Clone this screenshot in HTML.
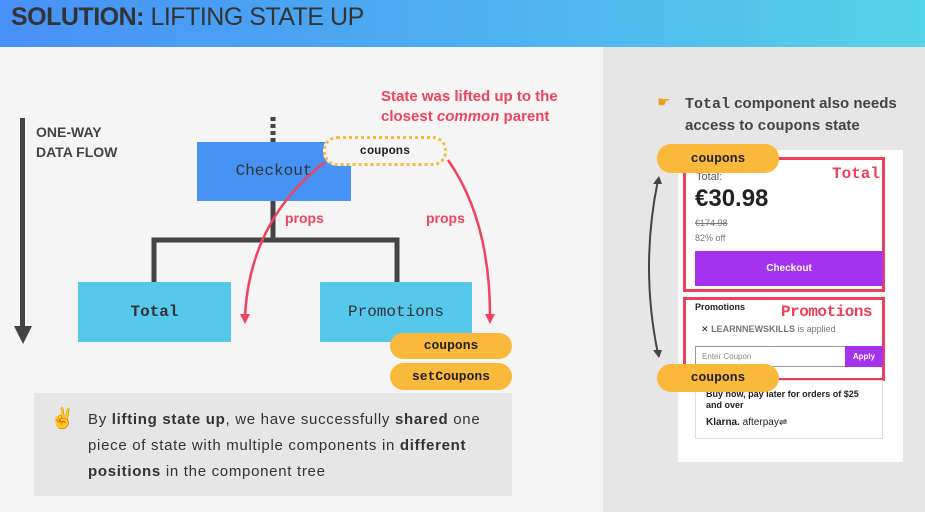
<!DOCTYPE html>
<html><head><meta charset="utf-8"><style>
body{margin:0;width:925px;height:512px;overflow:hidden;font-family:"Liberation Sans",sans-serif;background:#f5f5f5;position:relative}
.a{position:absolute}
.mono{font-family:"Liberation Mono","DejaVu Sans Mono",monospace}
.pill{position:absolute;background:#fbb93c;border-radius:14px;font-family:"Liberation Mono",monospace;font-weight:bold;font-size:13px;color:#222;text-align:center}
</style></head><body>
<div class="a" style="left:0;top:0;width:925px;height:47px;background:linear-gradient(90deg,#4790f6,#4fb5f0 60%,#56d3e6)"></div>
<div class="a" style="left:11px;top:3px;font-size:25px;color:#333;letter-spacing:-0.5px"><b>SOLUTION:</b> LIFTING STATE UP</div>
<div class="a" style="left:603px;top:47px;width:322px;height:465px;background:#e6e6e6"></div>

<div class="a" style="left:20px;top:118px;width:5px;height:210px;background:#444"></div>
<svg class="a" style="left:0;top:0" width="925" height="512">
<polygon points="14,326 32,326 23,344" fill="#444"/>
<line x1="273" y1="117" x2="273" y2="142" stroke="#444" stroke-width="5" stroke-dasharray="4,3"/>
<path d="M273 201V240M154 282V240H397V282" fill="none" stroke="#444" stroke-width="5"/>
</svg>
<div class="a" style="left:36px;top:122px;font-size:14px;font-weight:bold;color:#444;line-height:20px">ONE-WAY<br>DATA FLOW</div>
<div class="a" style="left:381px;top:87px;font-size:15px;font-weight:bold;color:#f0435f;line-height:20px">State was lifted up to the<br>closest <i>common</i> parent</div>
<div class="a mono" style="left:197px;top:142px;width:154px;height:59px;background:#4692f5;color:#333;font-size:16px;line-height:59px;text-align:center">Checkout</div>
<div class="a mono" style="left:78px;top:282px;width:153px;height:60px;background:#55c8ec;color:#333;font-size:16px;font-weight:bold;line-height:60px;text-align:center">Total</div>
<div class="a mono" style="left:320px;top:282px;width:152px;height:60px;background:#55c8ec;color:#333;font-size:16px;line-height:60px;text-align:center">Promotions</div>
<div class="a mono" style="left:323px;top:136px;width:118px;height:24px;border:3px dotted #fbb93c;border-radius:14px;background:#f5f5f5;font-size:12px;font-weight:bold;color:#222;line-height:24px;text-align:center">coupons</div>
<svg class="a" style="left:0;top:0" width="925" height="512">
<path d="M325 162 Q250 220 245 316" fill="none" stroke="#f0435f" stroke-width="2.5"/>
<polygon points="240,314 250,314 245,324" fill="#f0435f"/>
<path d="M448 160 Q490 220 490 316" fill="none" stroke="#f0435f" stroke-width="2.5"/>
<polygon points="485,314 495,314 490,324" fill="#f0435f"/>
</svg>
<div class="a" style="left:285px;top:210px;font-size:14px;font-weight:bold;color:#f0435f">props</div>
<div class="a" style="left:426px;top:210px;font-size:14px;font-weight:bold;color:#f0435f">props</div>
<div class="pill" style="left:390px;top:333px;width:122px;height:26px;line-height:26px">coupons</div>
<div class="pill" style="left:390px;top:363px;width:122px;height:27px;line-height:27px">setCoupons</div>

<div class="a" style="left:34px;top:393px;width:478px;height:103px;background:#e6e6e6"></div>
<div class="a" style="left:50px;top:406px;font-size:20px">✌</div>
<div class="a" style="left:88px;top:407px;width:422px;font-size:15px;letter-spacing:0.7px;color:#333;line-height:26px;white-space:nowrap">By <b>lifting state up</b>, we have successfully <b>shared</b> one<br>piece of state with multiple components in <b>different</b><br><b>positions</b> in the component tree</div>

<div class="a" style="left:657px;top:93px;font-size:15px;color:#e8a020">☛</div>
<div class="a" style="left:685px;top:93px;font-size:15px;font-weight:bold;color:#444;line-height:21px"><span class="mono">Total</span> component also needs<br>access to <span class="mono">coupons</span> state</div>

<div class="a" style="left:678px;top:150px;width:225px;height:312px;background:#fff"></div>
<div class="a" style="left:683px;top:157px;width:196px;height:129px;border:3px solid #ec3f5c"></div>
<div class="a" style="left:683px;top:297px;width:196px;height:78px;border:3px solid #ec3f5c"></div>
<div class="a mono" style="left:832px;top:165px;font-size:16px;font-weight:bold;color:#ec3f5c">Total</div>
<div class="a mono" style="left:781px;top:303px;font-size:16px;font-weight:bold;color:#ec3f5c;letter-spacing:-0.5px">Promotions</div>
<div class="a" style="left:696px;top:171px;font-size:11px;color:#555">Total:</div>
<div class="a" style="left:695px;top:185px;font-size:24px;font-weight:bold;color:#222">€30.98</div>
<div class="a" style="left:695px;top:218px;font-size:9px;color:#777;text-decoration:line-through">€174.98</div>
<div class="a" style="left:695px;top:233px;font-size:9px;color:#777">82% off</div>
<div class="a" style="left:695px;top:251px;width:188px;height:35px;background:#a432ee;color:#fff;font-size:10px;font-weight:bold;line-height:35px;text-align:center">Checkout</div>
<div class="a" style="left:695px;top:302px;font-size:9px;font-weight:bold;color:#222">Promotions</div>
<div class="a" style="left:701px;top:324px;font-size:9px;color:#777"><span style="color:#222">✕</span> <b>LEARNNEWSKILLS</b> is applied</div>
<div class="a" style="left:695px;top:346px;border:1px solid #999;font-size:8px;color:#888;line-height:20px;padding-left:6px;box-sizing:border-box;width:151px;height:21px">Enter Coupon</div>
<div class="a" style="left:845px;top:346px;width:38px;height:21px;background:#a432ee;color:#fff;font-size:8px;font-weight:bold;line-height:21px;text-align:center">Apply</div>
<div class="a" style="left:695px;top:380px;width:188px;height:59px;border:1px solid #ddd;box-sizing:border-box"></div>
<div class="a" style="left:706px;top:389px;font-size:9px;font-weight:bold;color:#222;line-height:11px">Buy now, pay later for orders of $25<br>and over</div>
<div class="a" style="left:706px;top:417px;font-size:10px;color:#222"><b>Klarna.</b> afterpay⇌</div>
<svg class="a" style="left:0;top:0" width="925" height="512">
<path d="M658 180 Q640 267 658 354" fill="none" stroke="#444" stroke-width="2"/>
<polygon points="653,184 662,184 659,176" fill="#444"/>
<polygon points="653,350 662,350 659,358" fill="#444"/>
</svg>
<div class="pill" style="left:657px;top:144px;width:122px;height:29px;line-height:29px">coupons</div>
<div class="pill" style="left:657px;top:364px;width:122px;height:28px;line-height:28px">coupons</div>
</body></html>
